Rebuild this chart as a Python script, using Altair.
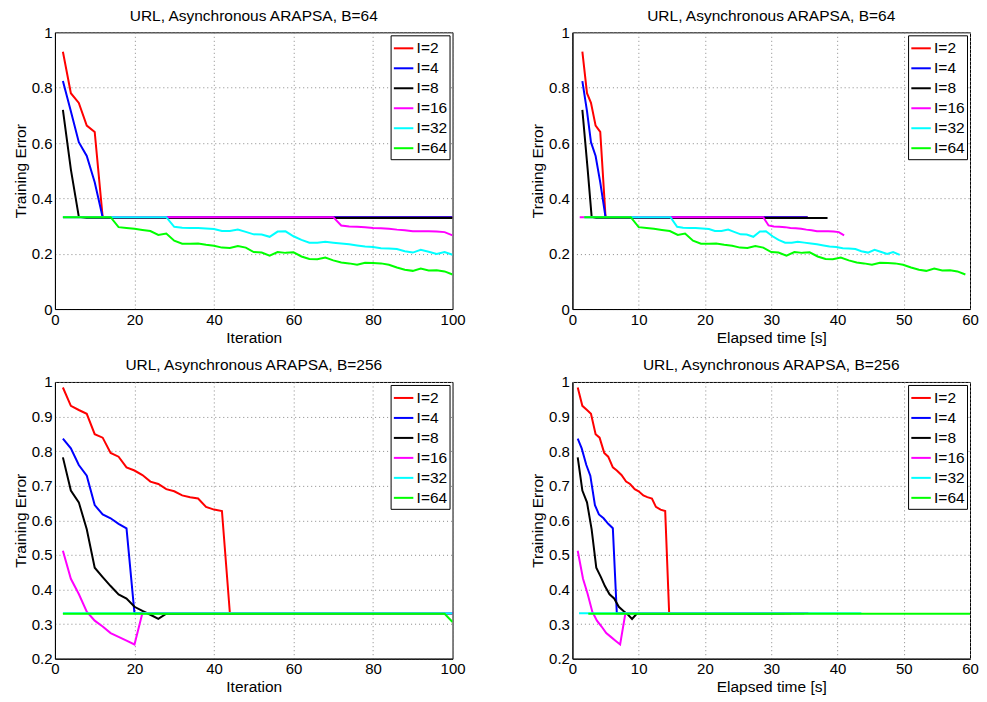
import altair as alt
import pandas as pd

LABELS = ["I=2", "I=4", "I=8", "I=16", "I=32", "I=64"]
COLORS = ["#ff0000", "#0000ff", "#000000", "#ff00ff", "#00ffff", "#00ff00"]
FONT = "Liberation Sans"

# ---------------- B=64 : training error vs iteration ----------------
it64_2 = [2, 4, 6, 8, 10, 12, 100]
err64_2 = [0.93, 0.78, 0.745, 0.663, 0.64, 0.332, 0.332]
it64_4 = [2, 4, 6, 8, 10, 12, 100]
err64_4 = [0.824, 0.715, 0.603, 0.553, 0.458, 0.332, 0.332]
it64_8 = [2, 4, 6, 8, 100]
err64_8 = [0.72, 0.505, 0.334, 0.329, 0.329]
it64_16 = [2] + list(range(70, 101, 2))
err64_16 = [0.332, 0.332, 0.302, 0.298, 0.297, 0.296, 0.293, 0.292, 0.29, 0.287,
            0.285, 0.281, 0.281, 0.281, 0.28, 0.278, 0.266]
it64_32 = [2] + list(range(28, 101, 2))
err64_32 = [0.332, 0.332, 0.297, 0.294, 0.293, 0.293, 0.291, 0.289, 0.282, 0.282,
            0.287, 0.279, 0.27, 0.269, 0.261, 0.28, 0.281, 0.263, 0.25, 0.24, 0.24,
            0.243, 0.24, 0.237, 0.234, 0.23, 0.226, 0.224, 0.22, 0.219, 0.217,
            0.209, 0.204, 0.214, 0.207, 0.199, 0.206, 0.196]
it64_64 = [2] + list(range(14, 101, 2))
err64_64 = [0.332, 0.332, 0.296, 0.293, 0.290, 0.286, 0.282, 0.268, 0.273, 0.247,
            0.236, 0.236, 0.237, 0.232, 0.229, 0.222, 0.221, 0.228, 0.222, 0.206,
            0.204, 0.193, 0.206, 0.203, 0.205, 0.19, 0.181, 0.18, 0.186, 0.176,
            0.168, 0.165, 0.16, 0.167, 0.166, 0.165, 0.16, 0.15, 0.142, 0.138,
            0.146, 0.139, 0.14, 0.136, 0.125]

# ---------------- B=64 : elapsed time [s] of the same points ----------------
t64_2 = [1.5, 2.2, 2.8, 3.5, 4.2, 5.0, 35.5]
t64_4 = [1.5, 2.2, 2.8, 3.5, 4.2, 5.0, 35.5]
t64_8 = [1.5, 2.3, 2.9, 3.6, 38.5]
t64_16 = [1.1, 28.8, 29.6, 30.4, 31.2, 32.1, 32.9, 33.7, 34.5, 35.3, 36.1, 36.9,
          37.8, 38.6, 39.4, 40.2, 41.0]
t64_32 = [1.8, 14.8, 15.8, 16.7, 17.7, 18.6, 19.6, 20.6, 21.5, 22.5, 23.5, 24.4,
          25.4, 26.3, 27.3, 28.3, 29.2, 30.2, 31.1, 32.1, 33.1, 34.0, 35.0, 36.0,
          36.9, 37.9, 38.8, 39.8, 40.8, 41.7, 42.7, 43.6, 44.6, 45.6, 46.5, 47.5,
          48.4, 49.4]
t64_64 = [1.8, 8.8, 10.0, 11.2, 12.3, 13.5, 14.7, 15.9, 17.0, 18.2, 19.4, 20.6,
          21.7, 22.9, 24.1, 25.3, 26.4, 27.6, 28.8, 30.0, 31.1, 32.3, 33.5, 34.7,
          35.8, 37.0, 38.2, 39.3, 40.5, 41.7, 42.9, 44.0, 45.2, 46.4, 47.6, 48.7,
          49.9, 51.1, 52.3, 53.4, 54.6, 55.8, 57.0, 58.1, 59.3]

# ---------------- B=256 : training error vs iteration ----------------
it256_2 = list(range(2, 45, 2)) + [100]
err256_2 = [0.984, 0.931, 0.919, 0.908, 0.849, 0.839, 0.795, 0.784, 0.753, 0.744,
            0.731, 0.712, 0.705, 0.69, 0.684, 0.672, 0.667, 0.663, 0.639, 0.631,
            0.627, 0.331, 0.331]
it256_4 = list(range(2, 21, 2)) + [100]
err256_4 = [0.836, 0.808, 0.76, 0.729, 0.644, 0.617, 0.606, 0.59, 0.577, 0.331, 0.331]
it256_8 = list(range(2, 29, 2)) + [100]
err256_8 = [0.782, 0.686, 0.652, 0.574, 0.463, 0.436, 0.41, 0.386, 0.374, 0.35,
            0.338, 0.327, 0.315, 0.33, 0.331]
it256_16 = list(range(2, 23, 2)) + [100]
err256_16 = [0.512, 0.431, 0.387, 0.336, 0.31, 0.293, 0.274, 0.263, 0.252, 0.241,
             0.332, 0.332]
it256_32 = [2, 100]
err256_32 = [0.331, 0.331]
it256_64 = [2, 98, 100]
err256_64 = [0.330, 0.330, 0.306]

# ---------------- B=256 : elapsed time [s] ----------------
t256_2 = [0.8, 1.5, 2.2, 2.8, 3.5, 4.1, 4.8, 5.4, 6.1, 6.7, 7.4, 8.1, 8.7, 9.4,
          10.0, 10.7, 11.3, 12.0, 12.6, 13.3, 14.0, 14.6, 33.0]
t256_4 = [0.8, 1.4, 2.1, 2.7, 3.4, 4.0, 4.7, 5.4, 6.1, 6.7, 32.0]
t256_8 = [0.8, 1.5, 2.2, 2.9, 3.6, 4.3, 4.9, 5.6, 6.3, 7.0, 7.7, 8.4, 9.0, 9.7, 35.0]
t256_16 = [0.8, 1.6, 2.3, 3.0, 3.7, 4.4, 5.1, 5.8, 6.5, 7.2, 8.0, 35.6]
t256_32 = [1.0, 43.6]
t256_64 = [2.4, 60.0]
err256_64_time = [0.330, 0.330]

TITLE64 = "URL, Asynchronous ARAPSA, B=64"
TITLE256 = "URL, Asynchronous ARAPSA, B=256"


def frame(series):
    rows = []
    for label, xs, ys in series:
        for xv, yv in zip(xs, ys):
            rows.append({"x": xv, "y": yv, "series": label})
    return pd.DataFrame(rows)


def panel(df, title, xtitle, xdom, xticks, ydom, yticks, w, h):
    return alt.Chart(df, title=title).mark_line(strokeWidth=2, clip=True).encode(
        x=alt.X("x:Q", title=xtitle,
                scale=alt.Scale(domain=xdom, nice=False, zero=False),
                axis=alt.Axis(values=xticks, format="d")),
        y=alt.Y("y:Q", title="Training Error",
                scale=alt.Scale(domain=ydom, nice=False, zero=False),
                axis=alt.Axis(values=yticks, format="~g")),
        color=alt.Color("series:N",
                        scale=alt.Scale(domain=LABELS, range=COLORS),
                        legend=alt.Legend(title=None, orient="top-right", offset=3,
                                          padding=2, strokeColor="black",
                                          fillColor="white", symbolType="stroke",
                                          symbolSize=380, symbolStrokeWidth=2,
                                          labelFontSize=15.5, labelFont=FONT,
                                          labelColor="black", labelOffset=2,
                                          rowPadding=0)),
    ).properties(width=w, height=h)


df_tl = frame([("I=2", it64_2, err64_2), ("I=4", it64_4, err64_4),
               ("I=8", it64_8, err64_8), ("I=16", it64_16, err64_16),
               ("I=32", it64_32, err64_32), ("I=64", it64_64, err64_64)])
df_tr = frame([("I=2", t64_2, err64_2), ("I=4", t64_4, err64_4),
               ("I=8", t64_8, err64_8), ("I=16", t64_16, err64_16),
               ("I=32", t64_32, err64_32), ("I=64", t64_64, err64_64)])
df_bl = frame([("I=2", it256_2, err256_2), ("I=4", it256_4, err256_4),
               ("I=8", it256_8, err256_8), ("I=16", it256_16, err256_16),
               ("I=32", it256_32, err256_32), ("I=64", it256_64, err256_64)])
df_br = frame([("I=2", t256_2, err256_2), ("I=4", t256_4, err256_4),
               ("I=8", t256_8, err256_8), ("I=16", t256_16, err256_16),
               ("I=32", t256_32, err256_32), ("I=64", t256_64, err256_64_time)])

ticks_it = [0, 20, 40, 60, 80, 100]
ticks_t = [0, 10, 20, 30, 40, 50, 60]
ticks_y64 = [0, 0.2, 0.4, 0.6, 0.8, 1]
ticks_y256 = [0.2, 0.3, 0.4, 0.5, 0.6, 0.7, 0.8, 0.9, 1]

W, H = 398, 277
tl = panel(df_tl, TITLE64, "Iteration", [0, 100], ticks_it, [0, 1], ticks_y64, W, H)
tr = panel(df_tr, TITLE64, "Elapsed time [s]", [0, 60], ticks_t, [0, 1], ticks_y64, W, H)
bl = panel(df_bl, TITLE256, "Iteration", [0, 100], ticks_it, [0.2, 1], ticks_y256, W, H)
br = panel(df_br, TITLE256, "Elapsed time [s]", [0, 60], ticks_t, [0.2, 1], ticks_y256, W, H)

top = alt.hconcat(tl, tr, spacing=63).resolve_scale(color="independent").resolve_legend(color="independent")
bottom = alt.hconcat(bl, br, spacing=63).resolve_scale(color="independent").resolve_legend(color="independent")

chart = alt.vconcat(top, bottom, spacing=12).resolve_scale(
    color="independent").resolve_legend(color="independent").properties(
    padding={"left": 4, "top": 0, "right": 0, "bottom": 0}
).configure(background="white").configure_view(
    stroke="black", strokeWidth=1
).configure_axis(
    labelFont=FONT, labelFontSize=15, labelColor="black",
    titleFont=FONT, titleFontSize=15.5, titleFontWeight="normal", titleColor="black",
    domainColor="black", domainWidth=1, ticks=False, labelPadding=3,
    gridColor="#888888", gridDash=[1, 3], gridWidth=1,
    labelFlush=False, labelOverlap=False, labelBound=False,
).configure_axisX(titlePadding=3).configure_axisY(titlePadding=3).configure_title(
    font=FONT, fontSize=15.5, fontWeight="normal", color="black", offset=1, anchor="middle"
)

chart.save("out.html", embed_options={"renderer": "svg", "actions": False})
